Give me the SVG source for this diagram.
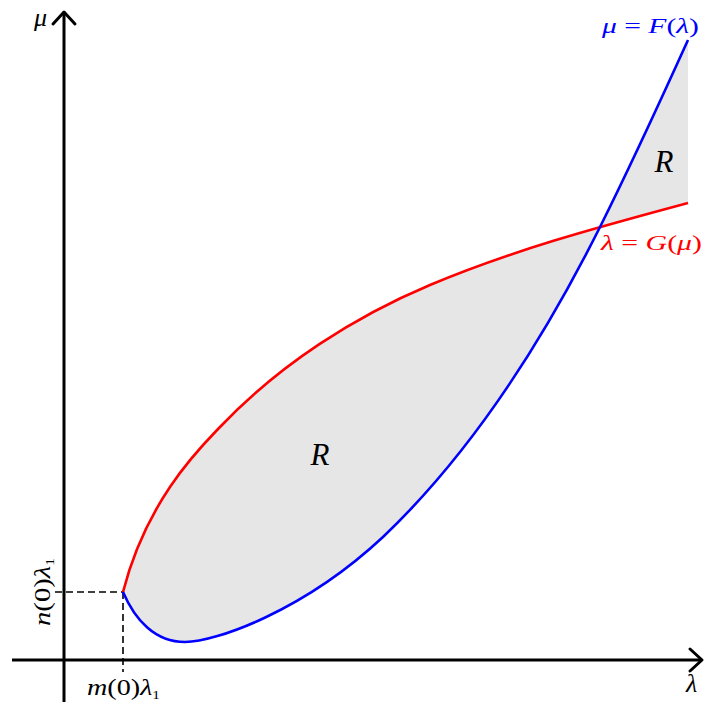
<svg xmlns="http://www.w3.org/2000/svg" width="705" height="702" viewBox="0 0 705 702">
<style>
.axis{fill:none;stroke:#000;stroke-width:3;stroke-linecap:butt;stroke-linejoin:round}
.head{fill:none;stroke:#000;stroke-width:3;stroke-linecap:round;stroke-linejoin:round}
.dash{fill:none;stroke:#000;stroke-width:1.6;stroke-dasharray:7 4}
.region{fill:#e6e6e6;stroke:none}
.curveF{fill:none;stroke:#0000ff;stroke-width:2.6}
.curveG{fill:none;stroke:#ff0000;stroke-width:2.6}
text{font-family:"Liberation Serif","DejaVu Serif",serif;font-size:21px}
.it{font-style:italic}
.ax{font-size:26px;font-style:italic}
.tick{font-size:24px}
.big{font-size:31px;font-style:italic}
.sub{font-size:13px}
</style>
<g id="region">
<path class="region" d="M123,592 C147,498.4 202,445.9 220,427 C280,364 355,316.5 430,285 C516,248.9 602,226.2 688,203 L688,40 C659,104 629,169 600,227 C540,347 468,456 383,537 C303,611.6 215,642 185,642 C155,642 135,620 123,592 Z"/>
</g>
<g id="guides">
<path class="dash" d="M55,592 H123"/>
<path class="dash" d="M123,592 V672"/>
</g>
<g id="axes">
<path class="axis" d="M64,702 V13"/>
<path class="head" d="M53,24 L64,12 L75,24"/>
<path class="axis" d="M12,660 H701"/>
<path class="head" d="M690,649 L702,660 L690,671"/>
</g>
<g id="curves">
<path id="curve-G" class="curveG" d="M123,592 C147,498.4 202,445.9 220,427 C280,364 355,316.5 430,285 C516,248.9 602,226.2 688,203"/>
<path id="curve-F" class="curveF" d="M123,592 C135,620 155,642 185,642 C215,642 303,611.6 383,537 C468,456 540,347 600,227 C629,169 659,104 688,40"/>
</g>
<g id="labels">
<text class="ax" x="34" y="26">μ</text>
<text class="ax" x="686" y="692">λ</text>
<text class="tick" x="87" y="695" textLength="73" lengthAdjust="spacingAndGlyphs"><tspan class="it">m</tspan>(0)<tspan class="it">λ</tspan><tspan class="sub" dy="4">1</tspan></text>
<text class="tick" transform="translate(50,592) rotate(-90)" text-anchor="middle" textLength="68" lengthAdjust="spacingAndGlyphs"><tspan class="it">n</tspan>(0)<tspan class="it">λ</tspan><tspan class="sub" dy="4">1</tspan></text>
<text class="big" x="320" y="465" text-anchor="middle">R</text>
<text class="big" x="664" y="172" text-anchor="middle">R</text>
<text x="602" y="33" fill="#0000ff" textLength="97" lengthAdjust="spacingAndGlyphs"><tspan class="it">μ</tspan> = <tspan class="it">F</tspan>(<tspan class="it">λ</tspan>)</text>
<text x="601" y="250" fill="#ff0000" textLength="101" lengthAdjust="spacingAndGlyphs"><tspan class="it">λ</tspan> = <tspan class="it">G</tspan>(<tspan class="it">μ</tspan>)</text>
</g>
</svg>
